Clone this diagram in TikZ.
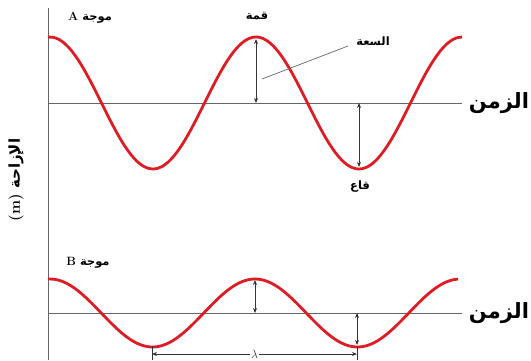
\documentclass[tikz,border=0pt]{standalone}
\usepackage{fontspec}
\usetikzlibrary{arrows.meta}
\newfontfamily\arabicfont[Script=Arabic]{DejaVu Sans}
\TeXXeTstate=1
\definecolor{wavered}{RGB}{222,28,36}

\newcommand*{\xaxis}{48}
\newcommand*{\xend}{462}
\newcommand*{\ya}{103}
\newcommand*{\yb}{313}
\newcommand*{\waveA}{\ya - 66*cos(1.7476*(\x-50))}
\newcommand*{\waveB}{\yb - 34*cos(1.7561*(\x-50))}

\begin{document}
\begin{tikzpicture}
[
	x=1pt, y=-1pt,
	axis/.style={draw=gray!80!black, line width=0.8pt},
	wave/.style={draw=wavered, line width=2.8pt, smooth},
	amp/.style={{Stealth[length=5pt,width=4pt]}-{Stealth[length=5pt,width=4pt]}, line width=0.8pt, black!80},
	lbl/.style={font=\arabicfont\bfseries\fontsize{11.5}{13}\selectfont, inner sep=1pt},
	timelbl/.style={font=\arabicfont\bfseries\fontsize{21}{24}\selectfont, inner sep=0pt}
]
	\useasboundingbox (0,0) rectangle (531,360);

	% axes
	\coordinate (top) at (\xaxis,8);
	\coordinate (bot) at (\xaxis,360);
	\draw[axis] (top) -- (bot);
	\coordinate (a0) at (\xaxis,\ya);
	\coordinate (a1) at (\xend,\ya);
	\draw[axis] (a0) -- (a1);
	\coordinate (b0) at (\xaxis,\yb);
	\coordinate (b1) at (\xend,\yb);
	\draw[axis] (b0) -- (b1);

	% waves
	\draw[wave, domain=48:462, samples=80] plot (\x,{\waveA});
	\draw[wave, domain=48:458, samples=80] plot (\x,{\waveB});

	% amplitude arrows
	\coordinate (crestA) at (256,39);
	\coordinate (crestAb) at (256,\ya);
	\draw[amp] (crestA) -- (crestAb);
	\coordinate (troughAt) at (359,\ya);
	\coordinate (troughA) at (359,167);
	\draw[amp] (troughAt) -- (troughA);
	\coordinate (crestB) at (255,280);
	\coordinate (crestBb) at (255,\yb);
	\draw[amp] (crestB) -- (crestBb);
	\coordinate (troughBt) at (357,\yb);
	\coordinate (troughB) at (357,345);
	\draw[amp] (troughBt) -- (troughB);

	% wavelength
	\coordinate (l0) at (152,346);
	\coordinate (l0b) at (152,360);
	\coordinate (l1) at (357,346);
	\coordinate (l1b) at (357,360);
	\draw[line width=0.8pt, black!80] (l0) -- (l0b) (l1) -- (l1b);
	\coordinate (lam0) at (152,354);
	\coordinate (lam1) at (357,354);
	\draw[amp] (lam0) -- node[fill=white, inner sep=1.5pt, font=\fontsize{12}{13}\selectfont] (lam) {$\lambda$} (lam1);

	% labels
	\node[lbl] (waveA) at (90,18) {\beginR موجة \textbf{\rmfamily\large A}\endR};
	\node[lbl] (waveB) at (88,263) {\beginR موجة \textbf{\rmfamily\large B}\endR};
	\node[lbl] (crest) at (257,16) {\beginR قمة\endR};
	\node[lbl] (trough) at (360,187) {\beginR قاع\endR};
	\node[lbl] (ampl) at (373,41) {\beginR السعة\endR};
	\coordinate (amptip) at (262,79);
	\draw[line width=0.7pt, gray!80!black] (348,46) coordinate (ampfoot) -- (amptip);
	\node[timelbl] (timeA) at (499,103) {\beginR الزمن\endR};
	\node[timelbl] (timeB) at (499,313) {\beginR الزمن\endR};
	\node[lbl, rotate=90, font=\arabicfont\bfseries\fontsize{15}{17}\selectfont] (disp) at (16,180) {\beginR الإزاحة \textbf{\rmfamily (m)}\endR};

\end{tikzpicture}
\end{document}
